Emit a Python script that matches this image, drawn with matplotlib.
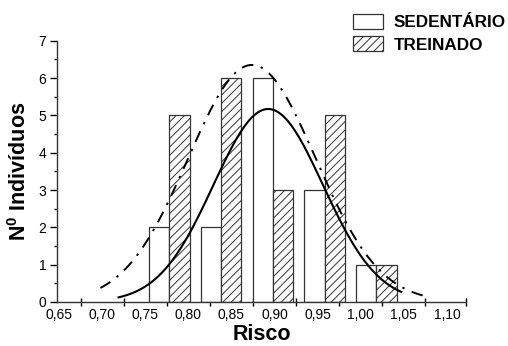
import numpy as np
import matplotlib
matplotlib.use('Agg')
import matplotlib.pyplot as plt

plt.rcParams['font.family'] = ['Liberation Sans', 'DejaVu Sans']
plt.rcParams['mathtext.fontset'] = 'custom'
plt.rcParams['mathtext.rm'] = 'Liberation Sans:bold'
plt.rcParams['mathtext.bf'] = 'Liberation Sans:bold'
plt.rcParams['hatch.linewidth'] = 0.7

# centros das classes de risco e frequências
classes = [0.778, 0.838, 0.898, 0.958, 1.018]
sedentario = [2, 2, 6, 3, 1]
treinado = [5, 6, 3, 5, 1]

# ajustes normais: média, desvio, amplitude, intervalo
sed_fit = dict(media=0.8926, dp=0.0635, amp=5.17, ini=0.719, fim=1.047)
tre_fit = dict(media=0.8737, dp=0.0739, amp=6.35, ini=0.698, fim=1.0725)

rotulos_x = [0.65, 0.70, 0.75, 0.80, 0.85, 0.90, 0.95, 1.00, 1.05, 1.10]
marcas_x = [0.675, 0.725, 0.775, 0.825, 0.875, 0.925, 0.975, 1.025, 1.075, 1.122]

largura = 0.0236

fig = plt.figure(figsize=(5.08, 3.46), dpi=100)
ax = fig.add_axes([0.1128, 0.1272, 0.8045, 0.7552])

x = np.array(classes)
ax.bar(x - largura / 2, sedentario, width=largura, color='white',
       edgecolor='#333333', linewidth=0.9, label='SEDENTÁRIO', zorder=2)
ax.bar(x + largura / 2, treinado, width=largura, color='white',
       edgecolor='#333333', linewidth=0.9, hatch='////', label='TREINADO',
       zorder=2)


def curva(p):
    xs = np.linspace(p['ini'], p['fim'], 200)
    return xs, p['amp'] * np.exp(-(xs - p['media']) ** 2 / (2 * p['dp'] ** 2))


xs, ys = curva(sed_fit)
ax.plot(xs, ys, color='black', lw=1.5, zorder=3)
xs, ys = curva(tre_fit)
ax.plot(xs, ys, color='black', lw=1.4, dashes=(6, 4, 1.2, 4), zorder=3)

ax.set_xlim(0.648, 1.122)
ax.set_ylim(0, 7)

ax.set_xticks(rotulos_x)
ax.set_xticklabels([f'{v:.2f}'.replace('.', ',') for v in rotulos_x])
ax.set_xticks(marcas_x, minor=True)
ax.tick_params(axis='x', which='major', length=0, labelsize=10, pad=4)
ax.tick_params(axis='x', which='minor', direction='inout', length=6,
               width=1)
ax.set_yticks(range(8))
ax.set_yticks(np.arange(0.5, 7, 1), minor=True)
ax.tick_params(axis='y', which='major', direction='out', length=5,
               width=1, labelsize=10, pad=3)
ax.tick_params(axis='y', which='minor', direction='out', length=2.5, width=1)

for s in ['top', 'right']:
    ax.spines[s].set_visible(False)
for s in ['left', 'bottom']:
    ax.spines[s].set_linewidth(1)
    ax.spines[s].set_color('#333333')

ax.set_xlabel('Risco', fontsize=15.5, fontweight='bold', labelpad=2)
ax.set_ylabel(r'N$^{0}$ Indivíduos', fontsize=15.5, fontweight='bold',
              labelpad=5)

fig.legend(loc='upper left', bbox_to_anchor=(0.694, 0.9595), frameon=False,
           prop={'weight': 'bold', 'size': 12.3}, handlelength=1.8,
           handleheight=0.96, handletextpad=0.6, labelspacing=0.36,
           borderpad=0, borderaxespad=0)

fig.savefig('out.png', dpi=100)
